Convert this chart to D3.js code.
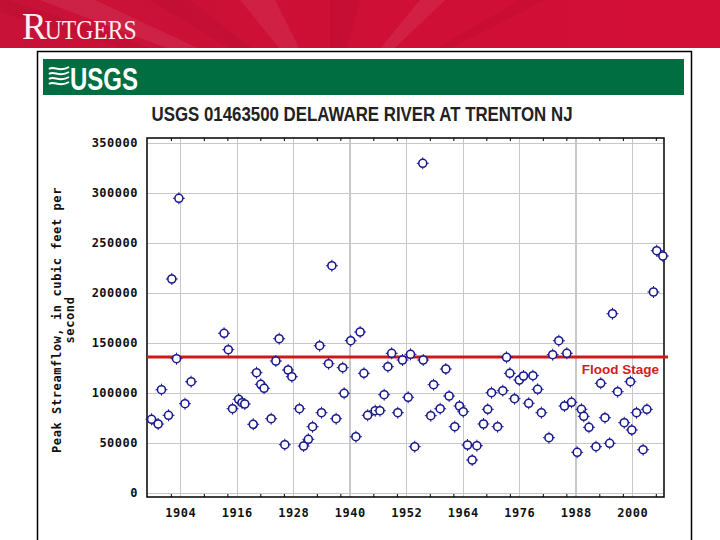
<!DOCTYPE html>
<html>
<head>
<meta charset="utf-8">
<script src="https://cdn.jsdelivr.net/npm/d3@7"></script>
<style>
  body { margin: 0; background: #fff; }
  svg { display: block; }
</style>
</head>
<body>
<svg id="chart" width="720" height="540"></svg>
<script>
// peak streamflow per water year (decimal year of the peak), cfs
const peakYears = [
  1897.9, 1899.3, 1900.0, 1901.5, 1902.2, 1903.2, 1903.7, 1905.0, 1906.3,
  1913.3, 1914.2, 1915.1, 1916.4, 1917.1, 1917.7, 1919.5, 1920.2, 1921.1, 1921.8,
  1923.3, 1924.3, 1925.0, 1926.2, 1926.9, 1927.7, 1929.3, 1930.2, 1931.2, 1932.1,
  1933.6, 1934.0, 1935.5, 1936.2, 1937.1, 1938.5, 1938.8, 1940.2, 1941.3, 1942.2,
  1943.0, 1943.8, 1945.4, 1946.4, 1947.3, 1948.1, 1948.9, 1950.2, 1951.2, 1952.4,
  1952.9, 1953.8, 1955.5, 1955.6, 1957.2, 1957.8, 1959.2, 1960.4, 1961.1, 1962.3,
  1963.3, 1964.1, 1965.0, 1966.0, 1967.0, 1968.4, 1969.3, 1970.1, 1971.4, 1972.5,
  1973.3, 1974.0, 1975.0, 1976.0, 1976.9, 1978.0, 1978.9, 1979.9, 1980.7, 1982.3,
  1983.1, 1984.4, 1985.6, 1986.1, 1987.1, 1988.3, 1989.2, 1989.7, 1990.8, 1992.3,
  1993.3, 1994.2, 1995.2, 1995.8, 1996.9, 1998.3, 1999.6, 1999.9, 2000.9, 2002.3,
  2003.1, 2004.5, 2005.2, 2006.5
];
const peakFlows = [
  73700, 69000, 103300, 77700, 214000, 134300, 294700, 89300, 111300,
  159700, 143300, 84300, 93700, 90300, 89000, 68700, 120300, 108700, 104700,
  74300, 132000, 154300, 48300, 123000, 116300, 84300, 47000, 53700, 66300,
  147300, 80300, 129300, 227300, 74300, 125300, 99700, 152300, 56300, 161000,
  119700, 77700, 82300, 82300, 98300, 126300, 139700, 80300, 133000, 95700,
  138700, 46300, 329700, 133000, 77300, 108300, 84300, 124000, 97000, 66300,
  87000, 81300, 48000, 33000, 47300, 69000, 83700, 100300, 66300, 102300,
  135700, 119700, 94300, 113000, 117000, 89700, 117300, 103700, 80300, 55300,
  138300, 152300, 87000, 139700, 90700, 40700, 83700, 76700, 65700, 46300,
  109700, 75300, 49700, 179300, 101300, 70300, 111300, 63000, 80300, 43300,
  83700, 201000, 242300, 237000
];
const floodStage = 136000;
const yTickValues = [0, 50000, 100000, 150000, 200000, 250000, 300000, 350000];
const xTickYears = [1904, 1916, 1928, 1940, 1952, 1964, 1976, 1988, 2000];
const minorTickYears = [1902, 1909, 1914, 1921, 1926, 1933, 1938, 1945, 1950,
  1957, 1962, 1969, 1974, 1981, 1986, 1993, 1998, 2005];
const titleText = "USGS 01463500 DELAWARE RIVER AT TRENTON NJ";
const yTitleLines = ["Peak Streamflow, in cubic feet per", "second"];

const svg = d3.select("#chart");
const mono = "'DejaVu Sans Mono', 'Liberation Mono', monospace";
const narrow = "'Liberation Sans Narrow', 'Arial Narrow', 'Liberation Sans', sans-serif";

// ---- Rutgers header ----
const grad = svg.append("defs").append("linearGradient")
  .attr("id", "hdr").attr("x1", 0).attr("x2", 1).attr("y1", 0).attr("y2", 0);
grad.append("stop").attr("offset", "0%").attr("stop-color", "#c81237");
grad.append("stop").attr("offset", "55%").attr("stop-color", "#cf0f36");
grad.append("stop").attr("offset", "100%").attr("stop-color", "#d40f37");
svg.append("rect").attr("width", 720).attr("height", 48).attr("fill", "url(#hdr)");

// faint sunburst rays on the left of the banner
const rays = [[-40, 10], [40, 95], [150, 190], [240, 275], [330, 360], [420, 445], [520, 545]];
svg.append("g").selectAll("path").data(rays).join("path")
  .attr("d", d => `M330,110 L${d[0]},0 L${d[1]},0 Z`)
  .attr("fill", (d, i) => i % 2 ? "rgba(255,255,255,0.07)" : "rgba(120,0,20,0.08)");
svg.append("rect").attr("x", 0).attr("y", 48).attr("width", 720).attr("height", 492).attr("fill", "#fff");

const rut = svg.append("text")
  .attr("x", 22).attr("y", 39)
  .attr("fill", "#fbeef0")
  .style("font-family", "'Liberation Serif', 'DejaVu Serif', serif");
rut.append("tspan").attr("font-size", 37).text("R");
rut.append("tspan").attr("font-size", 27).attr("dx", -2).attr("textLength", 92)
  .attr("lengthAdjust", "spacingAndGlyphs").text("UTGERS");

// ---- outer frame and USGS banner ----
svg.append("rect").attr("x", 37.5).attr("y", 51.5).attr("width", 654).attr("height", 500)
  .attr("fill", "none").attr("stroke", "#000").attr("stroke-width", 1.5);
svg.append("rect").attr("x", 43).attr("y", 59).attr("width", 641).attr("height", 36)
  .attr("fill", "#006e41");

const wave = svg.append("g").attr("transform", "translate(49,66)")
  .attr("fill", "none").attr("stroke", "#fff").attr("stroke-width", 2);
[3, 8, 13, 18].forEach(o => {
  wave.append("path").attr("d", `M0,${o} C5,${o - 4} 10,${o + 4} 20,${o - 2}`);
});
svg.append("text").attr("x", 70).attr("y", 90)
  .attr("fill", "#fff").attr("font-weight", "bold").attr("font-size", 31)
  .attr("textLength", 68).attr("lengthAdjust", "spacingAndGlyphs")
  .style("font-family", narrow).text("USGS");

svg.append("text").attr("x", 362).attr("y", 121).attr("text-anchor", "middle")
  .attr("fill", "#222").attr("font-weight", "bold").attr("font-size", 20)
  .attr("textLength", 421).attr("lengthAdjust", "spacingAndGlyphs")
  .style("font-family", narrow).text(titleText);

// ---- plot ----
const plotL = 147, plotR = 664, plotT = 138, plotB = 497;
const x = d3.scaleLinear().domain([1896.93, 2006.74]).range([plotL, plotR]);
const y = d3.scaleLinear().domain([0, 350000]).range([493, 143]);

const wideGrid = d => d === 1940 || d === 1988;
const grid = svg.append("g").attr("stroke", "#c8c8c8");
grid.selectAll("line.h").data(yTickValues).join("line").attr("class", "h")
  .attr("x1", plotL).attr("x2", plotR)
  .attr("y1", d => Math.round(y(d)) + 0.5).attr("y2", d => Math.round(y(d)) + 0.5);
grid.selectAll("line.v").data(xTickYears).join("line").attr("class", "v")
  .attr("y1", plotT).attr("y2", plotB)
  .attr("x1", d => Math.round(x(d)) + (wideGrid(d) ? 0 : 0.5))
  .attr("x2", d => Math.round(x(d)) + (wideGrid(d) ? 0 : 0.5))
  .attr("stroke-width", d => wideGrid(d) ? 2 : 1);

// minor ticks, pointing into the plot
svg.append("g").attr("transform", `translate(0,${plotT})`)
  .call(d3.axisBottom(x).tickValues(minorTickYears).tickSize(3).tickFormat(""))
  .call(g => g.select(".domain").remove());
svg.append("g").attr("transform", `translate(0,${plotB})`)
  .call(d3.axisTop(x).tickValues(minorTickYears).tickSize(3).tickFormat(""))
  .call(g => g.select(".domain").remove());

svg.append("rect").attr("x", plotL).attr("y", plotT).attr("width", plotR - plotL).attr("height", plotB - plotT)
  .attr("fill", "none").attr("stroke", "#000").attr("stroke-width", 1.5);

const yAxis = svg.append("g").attr("transform", `translate(${plotL},0)`)
  .call(d3.axisLeft(y).tickValues(yTickValues).tickSize(0).tickPadding(9).tickFormat(d3.format("d")));
yAxis.select(".domain").remove();
const xAxis = svg.append("g").attr("transform", `translate(0,${plotB})`)
  .call(d3.axisBottom(x).tickValues(xTickYears).tickSize(0).tickPadding(11).tickFormat(d3.format("d")));
xAxis.select(".domain").remove();
svg.selectAll(".tick text")
  .attr("fill", "#111").attr("font-size", 12).attr("font-weight", "bold")
  .attr("letter-spacing", 0.5).style("font-family", mono);

const yTitle = svg.append("g").attr("transform", "translate(0,320) rotate(-90)")
  .attr("text-anchor", "middle").attr("fill", "#111").attr("font-size", 12)
  .attr("font-weight", "bold").attr("letter-spacing", 0.6).style("font-family", mono);
yTitle.selectAll("text").data(yTitleLines).join("text")
  .attr("x", 0).attr("y", (d, i) => 61 + i * 13).text(d => d);

// flood stage
svg.append("line")
  .attr("x1", plotL).attr("x2", 668)
  .attr("y1", y(floodStage)).attr("y2", y(floodStage))
  .attr("stroke", "#cc1a1a").attr("stroke-width", 3);
svg.append("text").attr("x", 659).attr("y", y(floodStage) + 17)
  .attr("text-anchor", "end").attr("fill", "#cc2222").attr("font-weight", "bold")
  .attr("font-size", 13.5).style("font-family", "'Liberation Sans', Arial, sans-serif")
  .text("Flood Stage");

// peaks
const pts = svg.append("g").selectAll("g")
  .data(d3.zip(peakYears, peakFlows)).join("g")
  .attr("transform", d => `translate(${x(d[0])},${y(d[1])})`)
  .attr("stroke", "#1a1a90");
pts.append("path")
  .attr("d", "M0,-6V-4M0,4V6M-6,0H-4M4,0H6").attr("stroke-width", 1);
pts.append("circle").attr("r", 4).attr("fill", "#fff").attr("stroke-width", 1.6);
</script>
</body>
</html>
